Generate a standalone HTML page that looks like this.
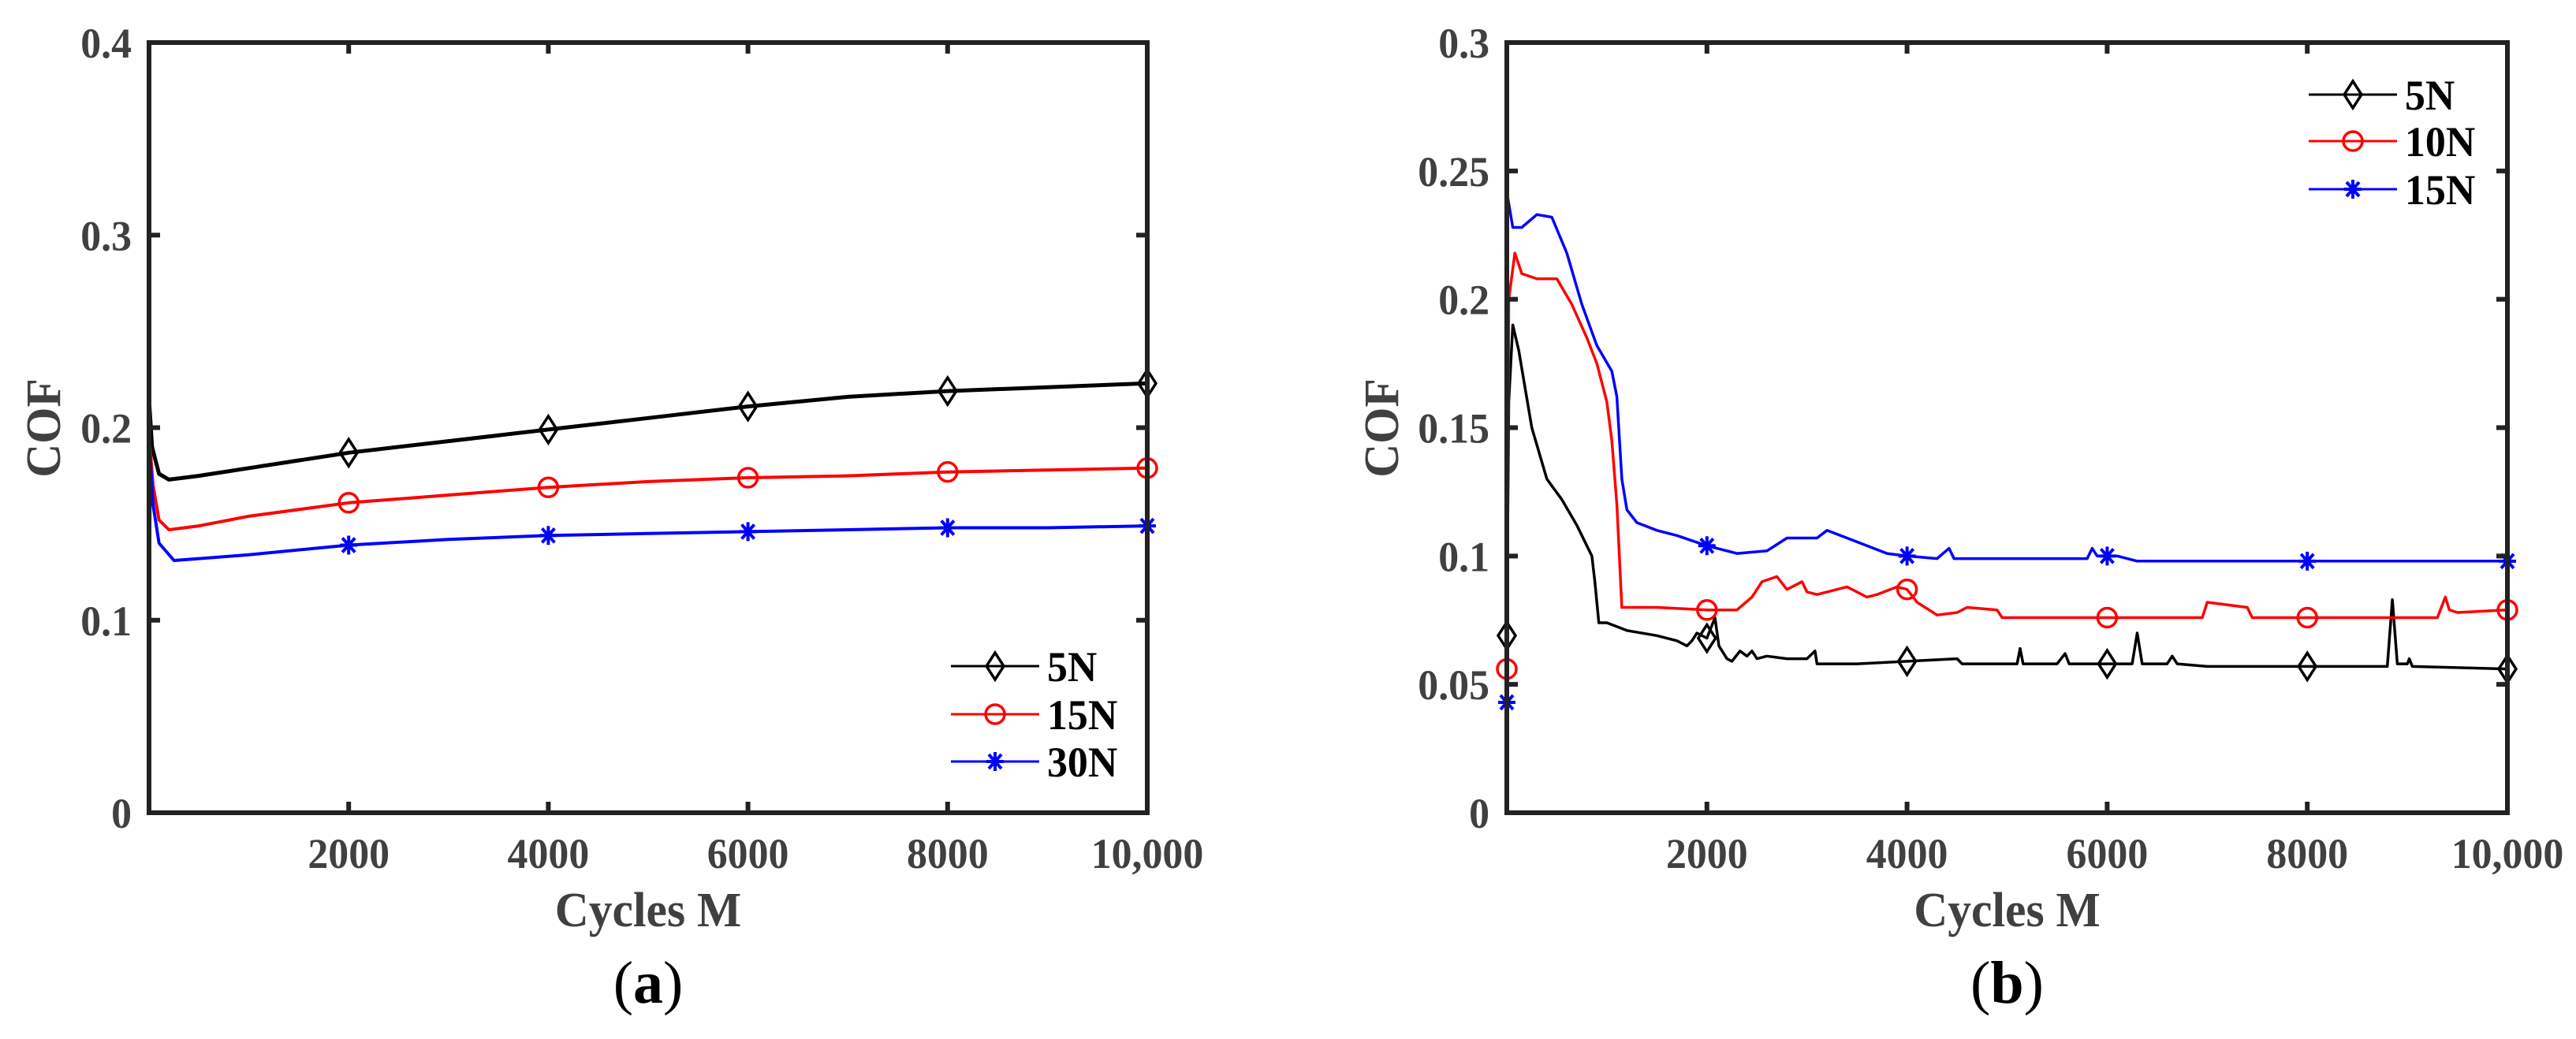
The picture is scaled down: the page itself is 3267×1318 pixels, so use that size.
<!DOCTYPE html>
<html><head><meta charset="utf-8">
<style>
html,body{margin:0;padding:0;background:#fff;}
svg{display:block;}
text{font-family:"Liberation Serif","Times New Roman",serif;}
</style></head>
<body>
<svg id="fig" width="3267" height="1318" viewBox="0 0 3267 1318" xmlns="http://www.w3.org/2000/svg"></svg>
<script>
// ---- Panel (a) data ----
const xTicksA = [2000, 4000, 6000, 8000, 10000];
const xTickLabelsA = ["2000", "4000", "6000", "8000", "10,000"];
const yTicksA = [0, 0.1, 0.2, 0.3, 0.4];
const yTickLabelsA = ["0", "0.1", "0.2", "0.3", "0.4"];
const legendA = ["5N", "15N", "30N"];
const a5x = [0, 30, 100, 200, 500, 1000, 2000, 3000, 4000, 5000, 6000, 7000, 8000, 9000, 10000];
const a5y = [0.215, 0.19, 0.176, 0.173, 0.175, 0.179, 0.187, 0.193, 0.199, 0.205, 0.211, 0.216, 0.219, 0.221, 0.223];
const a15x = [0, 10, 40, 100, 200, 500, 1000, 2000, 3000, 4000, 5000, 6000, 7000, 8000, 9000, 10000];
const a15y = [0, 0.19, 0.17, 0.152, 0.147, 0.149, 0.154, 0.161, 0.165, 0.169, 0.172, 0.174, 0.175, 0.177, 0.178, 0.179];
const a30x = [0, 10, 40, 100, 250, 500, 1000, 2000, 3000, 4000, 5000, 6000, 7000, 8000, 9000, 10000];
const a30y = [0, 0.185, 0.16, 0.14, 0.131, 0.132, 0.134, 0.139, 0.142, 0.144, 0.145, 0.146, 0.147, 0.148, 0.148, 0.149];
const markA5 = [2000, 4000, 6000, 8000, 10000];
const markA5y = [0.187, 0.199, 0.211, 0.219, 0.223];
const markA15y = [0.161, 0.169, 0.174, 0.177, 0.179];
const markA30y = [0.139, 0.144, 0.146, 0.148, 0.149];

// ---- Panel (b) data ----
const xTicksB = [2000, 4000, 6000, 8000, 10000];
const xTickLabelsB = ["2000", "4000", "6000", "8000", "10,000"];
const yTicksB = [0, 0.05, 0.1, 0.15, 0.2, 0.25, 0.3];
const yTickLabelsB = ["0", "0.05", "0.1", "0.15", "0.2", "0.25", "0.3"];
const legendB = ["5N", "10N", "15N"];
const b5x = [0, 20, 60, 120, 250, 400, 550, 700, 850, 880, 920, 1000, 1200, 1500, 1700, 1800, 1850, 1900, 2000, 2080, 2120, 2200, 2250, 2330, 2400, 2450, 2500, 2600, 2800, 3000, 3080, 3100, 3150, 3500, 4000, 4500, 4550, 5000, 5100, 5130, 5160, 5500, 5580, 5620, 5650, 6000, 6250, 6300, 6350, 6400, 6600, 6650, 6700, 7000, 8000, 8750, 8800, 8850, 8900, 9000, 9020, 9050, 10000];
const b5y = [0.069, 0.16, 0.19, 0.18, 0.15, 0.13, 0.122, 0.112, 0.1, 0.09, 0.074, 0.074, 0.071, 0.069, 0.067, 0.065, 0.067, 0.07, 0.068, 0.076, 0.065, 0.06, 0.059, 0.063, 0.061, 0.063, 0.06, 0.061, 0.06, 0.06, 0.063, 0.058, 0.058, 0.058, 0.059, 0.06, 0.058, 0.058, 0.058, 0.064, 0.058, 0.058, 0.062, 0.058, 0.058, 0.058, 0.058, 0.07, 0.058, 0.058, 0.058, 0.061, 0.058, 0.057, 0.057, 0.057, 0.057, 0.083, 0.058, 0.058, 0.06, 0.057, 0.056];
const b10x = [0, 20, 80, 150, 300, 500, 650, 800, 900, 1000, 1050, 1100, 1150, 1500, 2000, 2300, 2450, 2550, 2700, 2800, 2950, 3000, 3100, 3400, 3600, 3700, 3900, 4000, 4100, 4300, 4500, 4600, 4900, 4950, 6950, 7000, 7400, 7450, 9300, 9380, 9420, 9500, 10000];
const b10y = [0.056, 0.2, 0.218, 0.21, 0.208, 0.208, 0.198, 0.185, 0.175, 0.16, 0.145, 0.12, 0.08, 0.08, 0.079, 0.079, 0.084, 0.09, 0.092, 0.087, 0.09, 0.086, 0.085, 0.088, 0.084, 0.085, 0.088, 0.087, 0.082, 0.077, 0.078, 0.08, 0.079, 0.076, 0.076, 0.082, 0.08, 0.076, 0.076, 0.084, 0.079, 0.078, 0.079];
const b15x = [0, 8, 60, 150, 300, 450, 600, 750, 900, 1050, 1100, 1150, 1200, 1300, 1500, 1700, 2000, 2300, 2600, 2800, 3100, 3200, 3400, 3600, 3800, 4000, 4300, 4420, 4470, 4600, 5000, 5800, 5850, 5900, 6100, 6300, 8000, 10000];
const b15y = [0.043, 0.24, 0.228, 0.228, 0.233, 0.232, 0.218, 0.198, 0.182, 0.172, 0.162, 0.13, 0.118, 0.113, 0.11, 0.108, 0.104, 0.101, 0.102, 0.107, 0.107, 0.11, 0.107, 0.104, 0.101, 0.1, 0.099, 0.103, 0.099, 0.099, 0.099, 0.099, 0.103, 0.1, 0.1, 0.098, 0.098, 0.098];
const markBx = [0, 2000, 4000, 6000, 8000, 10000];
const markB5y = [0.069, 0.068, 0.059, 0.058, 0.057, 0.056];
const markB10y = [0.056, 0.079, 0.087, 0.076, 0.076, 0.079];
const markB15y = [0.043, 0.104, 0.1, 0.1, 0.098, 0.098];

const NS = "http://www.w3.org/2000/svg";
const svg = document.getElementById("fig");
const CW = {"0":.5,"1":.5,"2":.5,"3":.5,"4":.5,"5":.5,"6":.5,"7":.5,"8":.5,"9":.5,".":.25,",":.25,"N":.722,"C":.722,"O":.778,"F":.611,"y":.5,"c":.444,"l":.278,"e":.444,"s":.389," ":.25,"M":.944};
function tw(str, size) { let w = 0; for (const ch of str) w += (CW[ch] || .5); return w * size * 0.96; }
function mk(tag, attrs, parent) {
  const e = document.createElementNS(NS, tag);
  for (const k in attrs) e.setAttribute(k, attrs[k]);
  (parent || svg).appendChild(e);
  return e;
}
function txt(parent, attrs, str) {
  const t = mk("text", attrs, parent);
  t.textContent = str;
  t.setAttribute("textLength", tw(str, +attrs["font-size"]).toFixed(1));
  t.setAttribute("lengthAdjust", "spacingAndGlyphs");
  return t;
}
function marker(g, type, cx, cy, color) {
  let m;
  if (type === "diamond") {
    m = mk("polygon", {points: `${cx},${cy-17} ${cx+11},${cy} ${cx},${cy+17} ${cx-11},${cy}`, fill: "none", stroke: color, "stroke-width": 3.5}, g);
  } else if (type === "circle") {
    m = mk("circle", {cx: cx, cy: cy, r: 12, fill: "none", stroke: color, "stroke-width": 3.5}, g);
  } else {
    m = mk("path", {d: `M${cx-11},${cy}H${cx+11}M${cx},${cy-12}V${cy+12}M${cx-8},${cy-9}L${cx+8},${cy+9}M${cx-8},${cy+9}L${cx+8},${cy-9}`, stroke: color, "stroke-width": 4, fill: "none"}, g);
  }
  
  
}

function panel(cfg) {
  const L = cfg.left, R = cfg.right, T = 54, B = 1031;
  const xs = v => L + (v / 10000) * (R - L);
  const ys = v => B - (v / cfg.ymax) * (B - T);
  const g = mk("g", {});
  
  
  cfg.series.forEach(s => {
    const sg = mk("g", {}, g);
    
    
    const pts = s.x.map((v, i) => xs(v).toFixed(1) + "," + ys(s.y[i]).toFixed(1)).join(" ");
    const pl = mk("polyline", {points: pts, fill: "none", stroke: s.color, "stroke-width": s.w || 4, "stroke-linejoin": "round"}, sg);
    
    
    s.mx.forEach((v, i) => marker(sg, s.marker, xs(v), ys(s.my[i]), s.color));
  });
  const box = mk("rect", {x: L, y: T, width: R - L, height: B - T, fill: "none", stroke: "#222", "stroke-width": 6}, g);
  
  
  cfg.xt.forEach((v, i) => {
    const x = xs(v);
    mk("path", {d: `M${x},${B}V${B-14}M${x},${T}V${T+14}`, stroke: "#222", "stroke-width": 6}, g);
    const t = txt(g, {x: x, y: 1101, "text-anchor": "middle", "font-size": 54, "font-weight": "bold", fill: "#404040"}, cfg.xl[i]);
    
    
  });
  cfg.yt.forEach((v, i) => {
    const y = ys(v);
    mk("path", {d: `M${L},${y}H${L+14}M${R},${y}H${R-14}`, stroke: "#222", "stroke-width": 6}, g);
    const t = txt(g, {x: L - 22, y: y + 19, "text-anchor": "end", "font-size": 54, "font-weight": "bold", fill: "#404040"}, cfg.yl[i]);
    
    
  });
  const xt = txt(g, {x: (L + R) / 2, y: 1175, "text-anchor": "middle", "font-size": 62, "font-weight": "bold", fill: "#404040"}, "Cycles M");
  
  
  const yt = txt(g, {x: 0, y: 0, transform: `translate(${cfg.ylabX},543) rotate(-90)`, "text-anchor": "middle", "font-size": 62, "font-weight": "bold", fill: "#404040"}, "COF");
  
  
  const cap = mk("text", {x: (L + R) / 2, y: 1272, "text-anchor": "middle", "font-size": 76, fill: "#000"}, g);
  cap.innerHTML = `(<tspan font-weight="bold">${cfg.cap}</tspan>)`;
  
  
  cfg.series.forEach((s, i) => {
    const y = cfg.legY[i];
    const lg = mk("g", {}, g);
    
    
    mk("line", {x1: cfg.legX, x2: cfg.legX + 112, y1: y, y2: y, stroke: s.color, "stroke-width": 3}, lg);
    marker(lg, s.marker, cfg.legX + 56, y, s.color);
    txt(lg, {x: cfg.legX + 122, y: y + 19, "font-size": 54, "font-weight": "bold", fill: "#000"}, cfg.leg[i]);
  });
}

panel({name: "panel-a", left: 189, right: 1455, ymax: 0.4, xt: xTicksA, xl: xTickLabelsA, yt: yTicksA, yl: yTickLabelsA,
  ylabX: 76, cap: "a", leg: legendA, legX: 1206, legY: [845, 906, 966],
  series: [
    {name: "series-5n", color: "#000", x: a5x, y: a5y, marker: "diamond", mx: markA5, my: markA5y, w: 5},
    {name: "series-15n", color: "#f00", x: a15x, y: a15y, marker: "circle", mx: markA5, my: markA15y, w: 4},
    {name: "series-30n", color: "#00f", x: a30x, y: a30y, marker: "star", mx: markA5, my: markA30y, w: 4}
  ]});
panel({name: "panel-b", left: 1911, right: 3180, ymax: 0.3, xt: xTicksB, xl: xTickLabelsB, yt: yTicksB, yl: yTickLabelsB,
  ylabX: 1773, cap: "b", leg: legendB, legX: 2928, legY: [120, 179, 240],
  series: [
    {name: "series-5n", color: "#000", x: b5x, y: b5y, marker: "diamond", mx: markBx, my: markB5y, w: 3.5},
    {name: "series-10n", color: "#f00", x: b10x, y: b10y, marker: "circle", mx: markBx, my: markB10y, w: 3.5},
    {name: "series-15n", color: "#00f", x: b15x, y: b15y, marker: "star", mx: markBx, my: markB15y, w: 3.5}
  ]});
</script>
</body></html>
